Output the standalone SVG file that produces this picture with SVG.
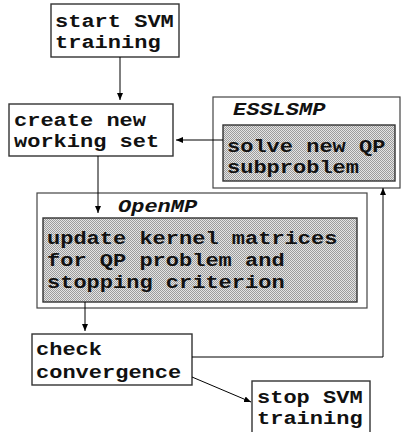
<svg xmlns="http://www.w3.org/2000/svg" width="403" height="432" viewBox="0 0 403 432">
<defs>
<pattern id="dots" width="2" height="2" patternUnits="userSpaceOnUse">
<rect width="2" height="2" fill="#e4e4e4"/>
<rect x="0" y="0" width="1" height="1" fill="#9c9c9c"/>
<rect x="1" y="1" width="1" height="1" fill="#9c9c9c"/>
</pattern>
<marker id="ah" markerWidth="7" markerHeight="6" refX="7" refY="3" orient="auto" markerUnits="userSpaceOnUse">
<path d="M0,0 L7,3 L0,6 Z" fill="#000"/>
</marker>
</defs>
<style>
.box{fill:#fff;stroke:#333;stroke-width:1.4}
.outer{fill:#fff;stroke:#444;stroke-width:1.2}
.hatch{fill:url(#dots);stroke:#333;stroke-width:1.4}
.t{font-family:"Liberation Mono","Courier New",monospace;font-weight:bold;font-size:19px;fill:#111}
.it{font-style:italic}
.c{fill:none;stroke:#000;stroke-width:1;marker-end:url(#ah)}
</style>
<rect width="403" height="432" fill="#fff"/>
<g id="start">
<rect class="box" x="51" y="4" width="128" height="53"/>
<text class="t" x="55" y="27" textLength="118.8" lengthAdjust="spacingAndGlyphs">start SVM</text>
<text class="t" x="55" y="48" textLength="105.6" lengthAdjust="spacingAndGlyphs">training</text>
</g>
<g id="create">
<rect class="box" x="9" y="104" width="164" height="52"/>
<text class="t" x="14" y="126" textLength="132" lengthAdjust="spacingAndGlyphs">create new</text>
<text class="t" x="14" y="147" textLength="145.2" lengthAdjust="spacingAndGlyphs">working set</text>
</g>
<g id="esslsmp">
<rect class="outer" x="213" y="97" width="187" height="91"/>
<text class="t it" x="233" y="115" textLength="92.4" lengthAdjust="spacingAndGlyphs">ESSLSMP</text>
<rect class="hatch" x="223" y="125" width="172" height="56"/>
<text class="t" x="227" y="152" textLength="158.4" lengthAdjust="spacingAndGlyphs">solve new QP</text>
<text class="t" x="227" y="173" textLength="132" lengthAdjust="spacingAndGlyphs">subproblem</text>
</g>
<g id="openmp">
<rect class="outer" x="37" y="193" width="330" height="115"/>
<text class="t it" x="118" y="212" textLength="79.2" lengthAdjust="spacingAndGlyphs">OpenMP</text>
<rect class="hatch" x="43" y="218" width="314" height="84"/>
<text class="t" x="47" y="244" textLength="290.4" lengthAdjust="spacingAndGlyphs">update kernel matrices</text>
<text class="t" x="47" y="266" textLength="237.6" lengthAdjust="spacingAndGlyphs">for QP problem and</text>
<text class="t" x="47" y="288" textLength="237.6" lengthAdjust="spacingAndGlyphs">stopping criterion</text>
</g>
<g id="check">
<rect class="box" x="32" y="334" width="160" height="51"/>
<text class="t" x="36" y="355" textLength="66" lengthAdjust="spacingAndGlyphs">check</text>
<text class="t" x="36" y="378" textLength="145.2" lengthAdjust="spacingAndGlyphs">convergence</text>
</g>
<g id="stop">
<rect class="box" x="252" y="381" width="118" height="55"/>
<text class="t" x="257" y="403" textLength="105.6" lengthAdjust="spacingAndGlyphs">stop SVM</text>
<text class="t" x="257" y="424" textLength="105.6" lengthAdjust="spacingAndGlyphs">training</text>
</g>
<g id="connectors">
<line class="c" x1="120" y1="57" x2="120" y2="100"/>
<line class="c" x1="223" y1="140" x2="176" y2="140"/>
<line class="c" x1="98" y1="156" x2="98" y2="213"/>
<line class="c" x1="85" y1="302" x2="85" y2="331"/>
<polyline class="c" points="192,357 383,357 383,188"/>
<line class="c" x1="192" y1="377" x2="251" y2="402"/>
</g>
</svg>
